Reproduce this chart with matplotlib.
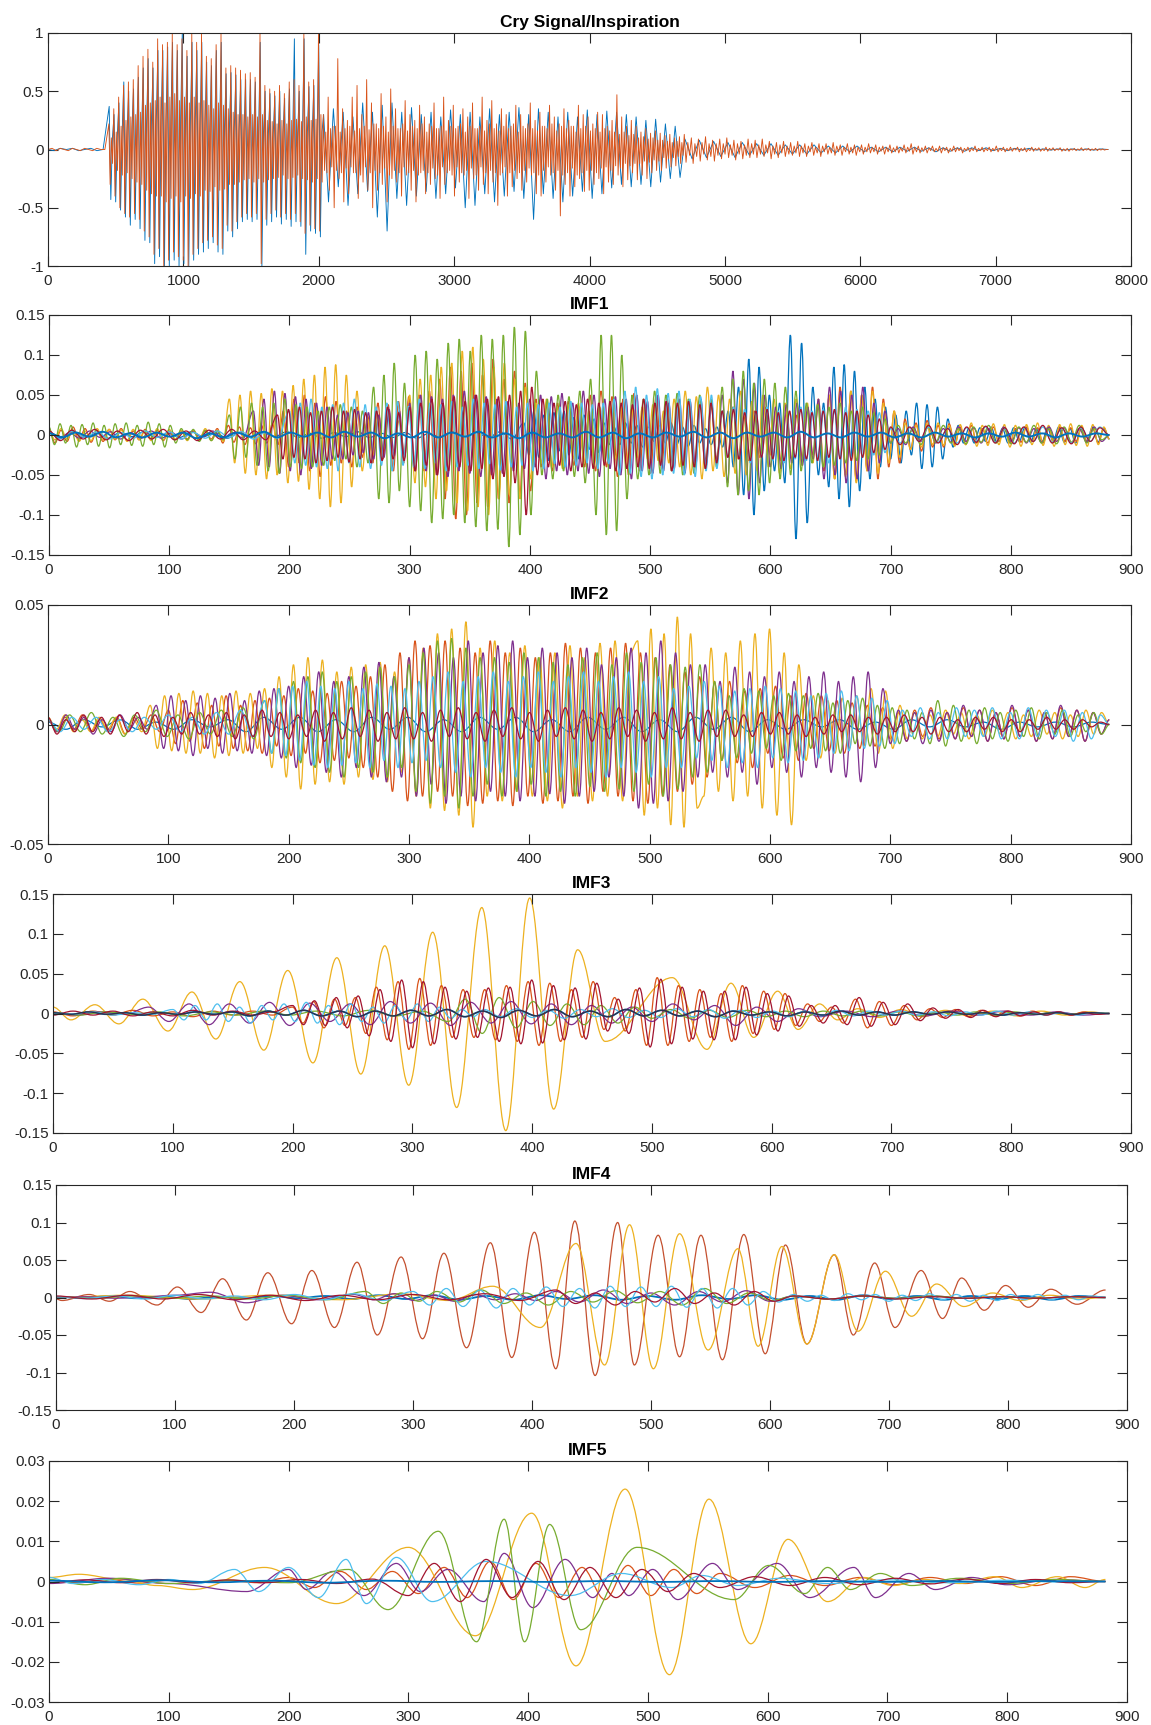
import numpy as np
import matplotlib.pyplot as plt
from matplotlib.path import Path
from matplotlib.patches import PathPatch
from matplotlib.ticker import FuncFormatter

plt.rcParams['font.family'] = ['Liberation Sans', 'DejaVu Sans']
plt.rcParams['axes.unicode_minus'] = False

# MATLAB default line colours
BLUE, ORANGE, YELLOW = '#0072BD', '#D95319', '#EDB120'
PURPLE, GREEN, CYAN, DARKRED = '#7E2F8E', '#77AC30', '#4DBEEE', '#A2142F'

# ---------------------------------------------------------------
# Data: extrema. Segments are (x_start, x_end, values),
# the values sit evenly spaced inside the segment.
# ---------------------------------------------------------------

# Cry Signal/Inspiration (values x 0.01)
cry_orange = [
    (0, 450, [0, 1, -1, 1, 0, -1, 1, 0, -1, 1, 0, -1, 1, 0, 0]),
    (450, 2034, [22, -30, 10, -12, 35, -40, 15, -18, 45, -50, 20, -22, 55, -55, 25, -20,
                 58, -58, 28, -25, 60, -55, 30, -28, 72, -60, 32, -30, 80, -70, 38, -35,
                 86, -75, 40, -38, 75, -90, 42, -40, 95, -85, 45, -40, 90, -100, 40, -45,
                 92, -95, 45, -42, 100, -88, 48, -40, 90, -92, 42, -45, 95, -95, 45, -40,
                 85, -100, 40, -42, 100, -90, 45, -38, 92, -85, 40, -40, 100, -80, 42, -35,
                 80, -78, 38, -36, 78, -75, 35, -32, 90, -82, 40, -35, 100, -85, 38, -34,
                 70, -65, 35, -30, 72, -70, 32, -30, 70, -62, 30, -28, 68, -58, 30, -26,
                 65, -55, 28, -25, 66, -58, 30, -28, 62, -55, 28, -25, 100, -98, 30, -28,
                 55, -60, 25, -26, 52, -55, 24, -25, 50, -52, 22, -24, 55, -58, 25, -22,
                 48, -55, 22, -25, 58, -60, 25, -24, 60, -55, 26, -22, 55, -62, 24, -25,
                 100, -72, 28, -26, 58, -65, 25, -28, 60, -68, 26, -25, 100, -70, 30, -28]),
    (2034, 4700, [30, -18, 15, -20, 45, -35, 18, -15, 20, -50, 20, -18, 78, -25, 15, -20, 35, -45, 18, -16,
                  25, -38, 20, -15, 45, -20, 16, -20, 55, -42, 18, -22, 30, -28, 20, -15, 60, -35, 17, -20,
                  40, -50, 22, -18, 22, -35, 18, -20, 48, -30, 20, -16, 28, -45, 15, -22, 52, -25, 20, -18,
                  35, -28, 18, -20, 18, -40, 22, -15, 42, -22, 16, -20, 30, -35, 20, -18, 25, -45, 18, -22,
                  38, -20, 22, -18, 28, -38, 15, -20, 22, -30, 20, -16, 40, -25, 18, -22, 18, -42, 20, -15,
                  45, -30, 16, -20, 25, -18, 20, -22, 38, -40, 18, -15, 20, -28, 22, -20, 35, -22, 15, -18,
                  28, -42, 20, -16, 40, -25, 18, -22, 18, -35, 20, -15, 45, -30, 16, -20, 25, -38, 22, -18,
                  42, -28, 18, -20, 22, -48, 16, -22, 35, -20, 20, -15, 30, -40, 18, -20, 20, -32, 22, -18,
                  38, -25, 15, -20, 30, -35, 20, -18, 18, -28, 22, -16, 40, -22, 18, -20, 25, -38, 16, -22,
                  32, -40, 20, -18, 20, -28, 18, -15, 38, -22, 22, -20, 28, -35, 16, -18, 22, -57, 20, -22,
                  35, -30, 18, -20, 25, -40, 20, -16, 20, -32, 15, -22, 38, -25, 18, -20, 30, -36, 20, -18,
                  28, -35, 16, -18, 22, -30, 18, -20, 32, -25, 15, -16, 30, -38, 18, -15, 20, -28, 16, -18,
                  25, -30, 15, -14, 47, -22, 13, -16, 28, -32, 15, -12, 20, -26, 12, -14, 25, -20, 13, -12,
                  20, -26, 10, -12, 15, -22, 11, -10, 18, -25, 9, -11, 14, -20, 10, -9, 16, -18, 8, -10,
                  14, -18, 8, -7, 12, -16, 7, -8, 13, -15, 6, -7, 10, -14, 7, -6, 11, -12, 6, -5]),
    (4700, 7830, [13, -11, 6, -5, 10, -12, 5, -6, 9, -10, 6, -4, 11, -9, 5, -6, 8, -10, 5, -5,
                  9, -8, 5, -4, 10, -7, 4, -5, 8, -9, 5, -4, 7, -8, 4, -5, 9, -7, 5, -4,
                  8, -7, 4, -4, 9, -6, 4, -3, 7, -8, 3, -4, 6, -7, 4, -3, 7, -6, 3, -4,
                  6, -5, 3, -3, 7, -6, 3, -3, 5, -6, 3, -2, 6, -5, 2, -3, 5, -6, 3, -2,
                  5, -4, 2, -3, 6, -5, 3, -2, 4, -5, 2, -2, 5, -4, 2, -3, 4, -5, 2, -2,
                  4, -4, 2, -2, 5, -3, 2, -2, 4, -4, 2, -1.5, 3, -4, 2, -2, 4, -3, 1.5, -2,
                  3, -3, 1.5, -1.5, 4, -3, 2, -1.5, 5, -4, 2, -2, 3, -3, 1.5, -1.5, 3, -3, 1.5, -1,
                  3, -2, 1, -1.5, 3, -3, 1.5, -1, 2, -3, 1, -1.5, 3, -2, 1.5, -1, 2, -3, 1, -1,
                  2, -2, 1, -1, 3, -2, 1, -1, 2, -2, 1, -1, 2, -2, 1, -1, 3, -2, 1, -1,
                  2, -2, 1, -1, 2, -1.5, 1, -0.5, 2, -2, 1, -1, 1.5, -2, 0.5, -1, 2, -1.5, 1, -0.5,
                  1.5, -1.5, 0.5, -1, 2, -1.5, 1, -0.5, 1.5, -1, 0.5, -0.5, 1.5, -1.5, 0.5, -1, 1, -1.5, 0.5, -0.5,
                  1, -1, 0.5, -0.5, 1.5, -1, 0.5, -0.5, 1, -1, 0.5, -0.5, 1, -1, 0.5, -0.5, 0.5, -0.5, 0, 0]),
]
cry_blue = [
    (0, 452, [0, -1, 1, 0, 1, -1, 0, 1, -1, 0]),
    (452, 2036, [37, -43, 10, 30, -45, 12, 40, -52, 15, 58, -58, 15, 50, -65, 18, 52, -60, 20,
                 62, -68, 20, 70, -78, 22, 78, -80, 25, 70, -98, 25, 85, -92, 28, 85, -100, 25,
                 88, -100, 28, 92, -95, 25, 85, -100, 28, 100, -98, 25, 80, -100, 25, 92, -95, 25,
                 85, -90, 22, 92, -88, 22, 75, -85, 20, 72, -80, 20, 85, -88, 22, 92, -90, 20,
                 65, -70, 18, 66, -75, 18, 64, -68, 16, 60, -62, 16, 60, -60, 15, 60, -62, 16,
                 58, -60, 15, 92, -100, 15, 50, -65, 14, 48, -62, 14, 46, -58, 12, 50, -64, 14,
                 44, -60, 12, 52, -66, 14, 95, -62, 14, 50, -66, 14, 95, -90, 15, 54, -70, 15,
                 55, -72, 15, 90, -75, 15]),
    (2036, 4705, [30, -45, 35, -32, 32, -48, 28, -38, 40, -36,
                  32, -58, 38, -70, 40, -42, 32, -48, 36, -40,
                  30, -36, 32, -42, 28, -38, 34, -33, 30, -50,
                  32, -48, 28, -38, 35, -45, 30, -40, 32, -36,
                  36, -42, 30, -60, 35, -38, 32, -42, 28, -45,
                  32, -40, 28, -36, 34, -42, 30, -38, 33, -33,
                  32, -30, 30, -32, 28, -30, 25, -32, 26, -28,
                  22, -25, 20, -24]),
    (4705, 7830, [9, -8, 8, -7, 7, -6, 6, -7, 6, -5,
                  5, -5, 5, -5, 4, -4, 4, -4, 4, -3,
                  3, -3, 3, -2, 3, -2, 2, -2, 2, -2,
                  2, -1.5, 2, -1.5, 1.5, -2, 1.5, -1.5, 1.5, -1.5,
                  1.5, -1, 1.5, -1, 1, -1, 1, -0.5, 1, -0.5,
                  0.5, -0.5, 0.5, -0.5, 0.5, -0.5, 0.5, -0.5, 0.5, 0]),
]

# IMF1 (values x 0.001)
imf1_blue = [
    (0, 395, [3, -2, 4, -3, 2, -4, 3, -2, 4, -3, 2, -3, 4, -2, 3, -4, 2, -3, 3, -2,
              4, -3, 2, -4, 3, -2, 4, -3, 2, -3, 3, -4, 2, -3, 4, -2, 3, -3, 4, -5]),
    (395, 470, [15, -25, 30, -28, 25, -32, 28, -20, 30, -25, 22, -30, 25, -18, 20, -22, 15, -12]),
    (470, 565, [10, -12, 15, -10, 12, -15, 10, -8, 12, -10, 15, -12, 10, -14, 12, -10, 8, -12, 10, -15]),
    (565, 612, [30, -40, 60, -75, 95, -100, 85, -70, 50, -45, 40]),
    (612, 640, [-60, 125, -130, 115, -110, 60]),
    (640, 700, [-50, 40, -65, 85, -80, 88, -90, 80, -70, 60, -55, 45, -40, 35]),
    (700, 765, [-30, 25, -35, 30, -25, 40, -42, 38, -40, 35, -30, 20, -15, 12, -10]),
    (765, 882, [8, -10, 9, -8, 10, -9, 8, -10, 9, -8, 10, -9, 8, -10, 9, -8, 10, -9, 8, -10,
                9, -8, 10, -9, 8, -5]),
]
imf1_orange = [
    (0, 140, [8, -10, 6, -8, 10, -7, 8, -9, 6, -8, 7, -6, 8, -7, 5, -6, 7, -5, 6, -7,
              5, -6, 4, -5, 6, -4, 5, -5]),
    (140, 195, [8, -10, 12, -9, 10, -12, 9, -11, 12, -10, 14, -12]),
    (195, 265, [30, -40, 45, -35, 50, -45, 40, -52, 48, -38, 42, -35, 30, -40, 35, -28]),
    (265, 325, [25, -35, 40, -30, 38, -45, 42, -35, 48, -40, 50, -45, 55, -50]),
    (325, 405, [70, -80, 85, -105, 80, -100, 90, -85, 75, -90, 95, -80, 70, -85, 80, -75, 65, -70]),
    (405, 450, [45, -40, 38, -45, 40, -35, 42, -38, 35, -40]),
    (450, 560, [50, -45, 55, -40, 48, -52, 45, -50, 52, -45, 40, -48, 50, -42, 45, -38,
                40, -45, 35, -40, 38, -32, 35, -30]),
    (560, 640, [30, -28, 35, -30, 25, -32, 30, -28, 35, -25, 30, -32, 28, -30, 25, -28, 30, -25]),
    (640, 712, [40, -45, 50, -55, 60, -50, 55, -58, 50, -45, 60, -55, 45, -40, 30, -35]),
    (712, 882, [20, -18, 15, -20, 18, -15, 12, -15, 14, -12, 10, -12, 12, -10, 8, -10, 10, -8,
                9, -10, 8, -9, 10, -8, 9, -10, 8, -9, 10, -8, 9, -8, 10, -9, 8, -10, 9, -5]),
]
imf1_yellow = [
    (0, 150, [5, -6, 8, -5, 6, -8, 5, -7, 8, -6, 7, -5, 6, -8, 7, -6, 5, -7, 8, -6,
              7, -5, 6, -7, 5, -6, 8, -7, 6, -8]),
    (150, 265, [45, -35, 50, -48, 55, -50, 52, -55, 58, -50, 55, -60, 62, -58, 70, -68,
                75, -80, 85, -90, 88, -85, 75, -65, 55, -45]),
    (265, 300, [20, -25, 22, -18, 25, -20, 18, -22]),
    (300, 405, [50, -60, 70, -65, 75, -80, 85, -70, 90, -85, 105, -95, 110, -90, 95, -100,
                85, -80, 90, -75, 70, -80, 60, -55]),
    (405, 520, [40, -35, 45, -40, 35, -42, 38, -30, 40, -35, 30, -38, 35, -32, 38, -30,
                35, -40, 32, -28, 35, -30, 38, -32, 30, -35]),
    (520, 640, [45, -40, 55, -50, 48, -55, 60, -45, 50, -52, 45, -48, 55, -50, 42, -45,
                50, -40, 45, -48, 40, -42, 45, -38, 40, -35]),
    (640, 712, [45, -40, 50, -55, 48, -52, 55, -60, 50, -45, 55, -48, 40, -35, 30, -28]),
    (712, 882, [15, -18, 12, -15, 14, -12, 15, -13, 12, -14, 13, -12, 15, -14, 12, -13,
                14, -12, 13, -15, 12, -14, 13, -12, 15, -13, 12, -14, 13, -12, 14, -13,
                12, -14, 13, -12, 10, -5]),
]
imf1_purple = [
    (0, 170, [4, -5, 3, -4, 5, -3, 4, -5, 3, -4, 5, -4, 3, -5, 4, -3, 5, -4, 3, -4]),
    (170, 240, [30, -38, 45, -40, 55, -48, 52, -45, 48, -50, 45, -42, 40, -38, 35, -30]),
    (240, 300, [25, -30, 28, -25, 30, -22, 28, -30, 25, -28, 32, -26, 30, -28]),
    (300, 400, [40, -45, 50, -45, 48, -50, 45, -52, 50, -45, 55, -48, 50, -52, 48, -50,
                45, -48, 42, -45, 40, -42]),
    (400, 560, [45, -40, 50, -55, 48, -45, 52, -50, 40, -45, 55, -48, 50, -52, 45, -42,
                48, -50, 45, -55, 50, -45, 42, -48, 50, -45, 40, -42, 45, -48, 42, -40,
                45, -38, 40, -35]),
    (560, 600, [50, -60, 80, -75, 70, -80, 65, -60, 50]),
    (600, 640, [-40, 35, -42, 38, -35, 40, -38, 35, -30]),
    (640, 700, [45, -55, 60, -50, 55, -60, 50, -55, 60, -45, 40, -35, 30]),
    (700, 882, [-10, 8, -12, 10, -8, 12, -10, 8, -9, 10, -8, 9, -10, 8, -9, 10, -8, 9,
                -10, 8, -9, 10, -8, 9, -10, 8, -9, 10, -8, 0]),
]
imf1_green = [
    (0, 110, [10, -12, 14, -10, 12, -15, 13, -12, 15, -14, 12, -16, 14, -12, 15, -13,
              12, -14, 16, -12, 14, -15, 12, -10]),
    (110, 150, [8, -6, 7, -8, 6, -7, 5, -6]),
    (150, 270, [25, -30, 35, -28, 40, -38, 35, -45, 40, -48, 45, -40, 38, -42, 35, -40,
                30, -38, 35, -32, 38, -30, 35, -40, 30, -35]),
    (270, 300, [60, -80, 75, -85, 90, -70, 65]),
    (300, 410, [-90, 100, -95, 105, -110, 95, -105, 115, -100, 120, -110, 105, -115, 125,
                -120, 120, -118, 125, -140, 135, -125, 130, -100, 80]),
    (410, 455, [-50, 45, -55, 50, -45, 48, -52, 55, -60, 70]),
    (455, 485, [-100, 125, -125, 125, -120, 100, -80]),
    (485, 560, [50, -55, 45, -50, 55, -48, 50, -45, 52, -50, 45, -48, 50, -42, 45, -40]),
    (560, 630, [60, -65, 70, -75, 80, -70, 65, -75, 70, -60, 65, -55, 60, -50, 55, -45]),
    (630, 700, [40, -35, 38, -40, 35, -38, 40, -35, 30, -32, 35, -30, 28, -25, 20]),
    (700, 882, [-10, 12, -10, 8, -12, 10, -9, 12, -10, 8, -11, 10, -9, 12, -10, 8, -11, 10,
                -9, 12, -10, 8, -11, 10, -9, 12, -10, 8, -6, 0]),
]
imf1_cyan = [
    (0, 200, [3, -4, 5, -3, 4, -5, 3, -4, 5, -3, 4, -5, 3, -4, 5, -3, 4, -5, 3, -4]),
    (200, 470, [30, -35, 40, -38, 45, -40, 35, -42, 38, -45, 40, -35, 45, -40, 38, -42,
                35, -38, 40, -45, 42, -38, 36, -40, 45, -42, 40, -35, 38, -45, 42, -40,
                35, -38, 45, -42, 40, -36, 38, -44, 42, -40, 35, -38, 40, -45, 38, -42,
                40, -36, 35, -40, 42, -38, 40, -35, 38, -42, 40, -36]),
    (470, 560, [45, -50, 55, -48, 60, -52, 50, -55, 58, -50, 52, -48, 55, -50, 45, -52, 48, -45, 50, -42]),
    (560, 700, [30, -28, 35, -30, 32, -35, 30, -28, 35, -32, 30, -35, 28, -30, 35, -32,
                30, -28, 32, -35, 30, -28, 35, -30, 32, -28, 30, -25, 28, -22]),
    (700, 882, [8, -10, 9, -8, 10, -9, 8, -10, 9, -8, 10, -9, 8, -10, 9, -8, 10, -9, 8, -10,
                9, -8, 10, 0]),
]
imf1_darkred = [
    (0, 190, [5, -7, 6, -5, 7, -6, 5, -7, 6, -5, 7, -6, 5, -7, 6, -5, 7, -6, 5, -6]),
    (190, 300, [25, -30, 32, -28, 35, -30, 28, -35, 30, -32, 35, -28, 30, -34, 32, -30,
                28, -35, 30, -32, 35, -30, 28, -32]),
    (300, 420, [35, -45, 40, -38, 45, -50, 40, -45, 48, -40, 42, -45, 50, -42, 45, -55,
                48, -52, 50, -60, 55, -100, 60, -50, 45, -40]),
    (420, 560, [40, -38, 42, -45, 38, -40, 45, -42, 40, -38, 42, -45, 40, -42, 38, -40,
                45, -42, 40, -38, 42, -45, 40, -38, 42, -40, 38, -42, 40, -35]),
    (560, 700, [30, -28, 32, -30, 28, -32, 30, -28, 32, -30, 28, -32, 30, -28, 32, -30,
                28, -32, 30, -28, 32, -30, 28, -32, 30, -28, 25, -22, 20, -18]),
    (700, 882, [10, -12, 10, -8, 12, -10, 8, -12, 10, -9, 11, -10, 9, -11, 10, -8, 12, -10,
                9, -11, 10, -8, 9, 0]),
]
imf1_zero = [
    (0, 882, [2, -3, 3, -2, 4, -3, 2, -3, 3, -2, 3, -4, 2, -3, 3, -2, 4, -3, 3, -2,
              3, -3, 4, -2, 3, -4, 2, -3, 4, -3, 3, -2, 4, -3, 2, -4, 3, -3, 2, -3,
              4, -3, 3, -4, 2, -3, 3, -2, 4, -3, 3, -4, 3, -2, 3, -3, 4, -3, 2, -3,
              3, -2, 3, -3, 2, -3, 3, -2, 2, -3, 2, -2, 3, -2, 2, -3, 2, -2, 2, 0]),
]

# IMF2 (values x 0.001)
imf2_blue = [
    (0, 882, [1, -2, 2, -1, 2, -2, 1, -2, 2, -1, 2, -3, 3, -2, 3, -3, 2, -3, 3, -2,
              3, -3, 2, -3, 3, -2, 3, -3, 2, -3, 3, -2, 3, -3, 2, -3, 3, -2, 3, -3,
              2, -2, 2, -1, 2, -2, 1, -2, 2, -1, 2, -1, 1, -2, 1, -1, 1, -1, 1, 0]),
]
imf2_orange = [
    (0, 100, [2, -3, 3, -2, 4, -3, 2, -3, 3, -4, 3, -2, 4, -3]),
    (100, 280, [6, -8, 10, -7, 9, -10, 8, -9, 12, -10, 8, -11, 10, -12, 11, -9, 12, -13,
                15, -12, 14, -16, 13, -15, 18, -14, 16, -18, 20, -22]),
    (280, 480, [25, -28, 30, -32, 35, -30, 33, -28, 35, -30, 32, -34, 30, -33, 35, -32,
                30, -34, 32, -30, 28, -33, 30, -32, 34, -30, 32, -33, 30, -28, 32, -30]),
    (480, 560, [34, -32, 30, -33, 28, -30, 25, -28, 22, -25, 20, -22, 18]),
    (560, 700, [-15, 18, -16, 14, -18, 15, -12, 16, -14, 12, -15, 13, -10, 12, -11, 10,
                -12, 9, -10, 8, -9, 7]),
    (700, 882, [-6, 5, -7, 6, -5, 7, -6, 5, -6, 7, -5, 6, -7, 5, -6, 7, -5, 6, -7, 5,
                -6, 7, -5, 6, -7, 5, -4, 2]),
]
imf2_yellow = [
    (0, 85, [3, -2, 4, -3, 2, -3, 3, -2, 3, -4, 2, -3]),
    (85, 180, [8, -10, 12, -11, 13, -12, 14, -12, 13, -14, 12, -13, 14, -12, 13, -10]),
    (180, 300, [15, -18, 20, -22, 25, -27, 28, -25, 27, -24, 22, -25, 24, -22, 25, -23,
                26, -24, 22, -20]),
    (300, 365, [28, -30, 32, -35, 38, -36, 40, -38, 43, -43, 32]),
    (365, 490, [-30, 35, -32, 30, -28, 33, -30, 28, -32, 30, -35, 33, -30, 28, -32, 34,
                -30, 35, -32, 30]),
    (490, 545, [35, -38, 40, -35, 38, -42, 45, -43, 38, -35]),
    (545, 630, [-30, 32, -28, 30, -32, 35, -30, 38, -35, 40, -38, 30, -42, 25]),
    (630, 720, [-15, 12, -14, 10, -12, 11, -10, 12, -9, 15, -12, 14, -10, 8, -6]),
    (720, 882, [5, -6, 4, -5, 6, -4, 5, -6, 4, -5, 6, -4, 5, -6, 4, -5, 6, -4, 5, -6,
                4, -5, 6, -4, 5, 0]),
]
imf2_purple = [
    (0, 90, [2, -3, 4, -2, 3, -4, 2, -3, 4, -2, 3, -2]),
    (90, 200, [8, -10, 12, -11, 10, -13, 12, -10, 11, -12, 13, -11, 10, -12, 14, -13, 15, -14]),
    (200, 300, [16, -18, 20, -17, 22, -20, 18, -22, 20, -18, 24, -22, 26, -24, 20, -22]),
    (300, 460, [28, -30, 32, -25, 30, -33, 28, -30, 35, -32, 30, -28, 33, -30, 35, -32,
                28, -30, 32, -29, 30, -33, 28, -30, 32, -28]),
    (460, 540, [25, -22, 28, -30, 32, -35, 30, -33, 35, -32, 30, -28, 25]),
    (540, 700, [-22, 25, -20, 18, -22, 24, -20, 22, -25, 20, -18, 22, -20, 18, -22, 20,
                -18, 22, -20, 18, -22, 20, -24, 22, -18, 15]),
    (700, 882, [-8, 6, -7, 5, -8, 6, -7, 5, -6, 8, -5, 6, -7, 5, -6, 8, -5, 6, -7, 5,
                -6, 8, -5, 6, -7, 5, -4, 2]),
]
imf2_green = [
    (0, 180, [2, -3, 4, -3, 5, -4, 3, -5, 4, -3, 6, -5, 4, -6, 5, -4, 6, -5, 7, -6]),
    (180, 300, [10, -12, 15, -14, 18, -16, 20, -18, 22, -20, 18, -22, 20, -18, 22, -20,
                24, -22, 20, -18]),
    (300, 365, [25, -28, 30, -33, 35, -30, 36, -35, 32, -30, 28]),
    (365, 560, [-25, 28, -30, 26, -28, 30, -25, 28, -30, 26, -28, 25, -30, 28, -26, 30,
                -28, 25, -27, 30, -28, 26, -25, 28, -30, 25, -27, 24, -22, 25, -20, 18]),
    (560, 720, [-15, 12, -14, 15, -12, 14, -10, 12, -15, 13, -11, 12, -10, 13, -11, 9,
                -12, 10, -8, 11, -9, 8, -10, 7, -8, 6]),
    (720, 882, [-6, 5, -8, 10, -9, 8, -7, 6, -8, 7, -6, 5, -7, 6, -5, 7, -6, 5, -4, 6,
                -5, 4, -3, 5, -4, 0]),
]
imf2_cyan = [
    (0, 180, [2, -3, 3, -2, 3, -3, 2, -3, 3, -2, 4, -3, 3, -4, 5, -4, 6, -5]),
    (180, 320, [10, -12, 15, -13, 16, -15, 18, -17, 16, -18, 15, -17, 18, -16, 15, -18,
                17, -15, 16, -18, 15, -16, 18, -15]),
    (320, 520, [20, -18, 22, -20, 18, -22, 20, -18, 22, -20, 18, -22, 20, -18, 22, -20,
                18, -22, 20, -18, 22, -20, 18, -22, 20, -18, 22, -20, 18, -22, 20, -18]),
    (520, 710, [15, -18, 16, -14, 18, -15, 16, -18, 14, -16, 15, -18, 16, -14, 15, -16,
                14, -15, 12, -14, 13, -12, 14, -11, 12, -10, 11, -9, 10, -8]),
    (710, 882, [6, -5, 7, -6, 5, -6, 7, -5, 6, -5, 7, -6, 5, -6, 7, -5, 6, -5, 6, -7,
                5, -6, 4, 0]),
]
imf2_darkred = [
    (0, 882, [3, -4, 2, -3, 4, -3, 3, -4, 4, -3, 5, -4, 4, -5, 3, -4, 5, -4, 4, -5,
              5, -6, 4, -5, 6, -5, 5, -6, 4, -5, 6, -7, 5, -6, 7, -5, 6, -7, 5, -6,
              7, -6, 5, -7, 6, -5, 7, -6, 5, -7, 6, -5, 7, -6, 5, -7, 6, -5, 7, -6,
              6, -7, 5, -6, 7, -5, 6, -7, 5, -6, 7, -6, 5, -7, 6, -5, 6, -5, 4, -5,
              5, -4, 5, -4, 4, -5, 3, -4, 4, -3, 4, -3, 3, -4, 3, -3, 4, -3, 3, -4,
              3, -3, 2, -3, 3, -2, 3, -3, 2, -3, 2, -2, 3, -2, 2, -2, 2, -1, 1, 0]),
]

# IMF3 (values x 0.001)
imf3_yellow_x = [0, 15, 35, 55, 75, 96, 116, 136, 156, 176, 196, 217, 237, 257, 277, 297,
                 317, 337, 358, 378, 398, 418, 438, 461, 517, 546, 566, 585, 605, 622,
                 640, 655, 672, 690, 708, 726, 745, 765, 785, 805, 825, 845, 865, 882]
imf3_yellow_y = [8, -8, 11, -13, 18, -22, 27, -32, 40, -46, 54, -62, 70, -76, 85, -90,
                 102, -118, 133, -147, 145, -120, 80, -35, 45, -45, 38, -30, 28, -20,
                 12, -8, 6, -5, 5, -4, 4, -3, 3, -3, 3, -2, 2, 0]
imf3_orange = [
    (0, 200, [2, -3, 3, -2, 4, -3, 2, -4, 3, -2, 3, -2]),
    (200, 270, [8, -12, 15, -18, 18, -15, 20, -25]),
    (270, 460, [33, -33, 40, -45, 44, -40, 35, -30, 30, -30, 30, -33, 35, -35, 40, -40,
                38, -35, 30, -30, 40]),
    (460, 620, [-20, 20, -22, 30, -40, 45, -40, 35, -35, 30, -30, 25, -35, 35, -25, 28, -20, 25]),
    (620, 700, [-15, 12, -10, 8, -12, 18, -18, 15]),
    (700, 882, [-15, 10, -8, 6, -5, 5, -4, 4, -3, 3, -3, 3, -2, 2, -2, 2, -1, 0]),
]
imf3_darkred = [
    (0, 200, [-2, 3, -2, 3, -3, 2, -3, 4, -2, 3, -2, 2]),
    (200, 273, [10, -14, 16, -15, 20, -18, 22, -28]),
    (273, 463, [30, -35, 42, -43, 40, -38, 33, -32, 28, -30, 32, -35, 33, -38, 42, -37,
                35, -33, 32, -32, 38]),
    (463, 623, [-22, 18, -25, 32, -42, 43, -38, 33, -32, 28, -33, 28, -33, 33, -27, 25, -22, 22]),
    (623, 703, [-16, 10, -12, 10, -14, 20, -16, 14]),
    (703, 882, [-14, 12, -9, 7, -6, 5, -5, 4, -4, 3, -3, 2, -2, 2, -2, 1, -1, 0]),
]
imf3_purple = [
    (0, 80, [1, -2, 2, -1]),
    (80, 500, [8, -10, 12, -14, 12, -12, 14, -15, 13, -10, 12, -14, 15, -12, 13, -15,
               14, -12, 15, -13, 12, -14, 10, -12, 8]),
    (500, 640, [-10, 12, -8, 10, -15, 8, -10, 6]),
    (640, 882, [-4, 3, -4, 3, -3, 3, -2, 3, -2, 2, -2, 0]),
]
imf3_cyan = [
    (0, 100, [1, -1, 2, -2, 1, -1]),
    (100, 360, [5, -8, 10, -8, 12, -10, 8, -12, 10, -8, 12, -10, 14, -12, 10, -14,
                12, -10, 8, -12, 10, -8, 12, -10, 8, -6, 5, -4]),
    (360, 882, [5, -4, 6, -5, 4, -6, 5, -4, 6, -5, 4, -5, 6, -4, 5, -6, 4, -5, 3, -4,
                3, -3, 4, -3, 3, -2, 3, -2, 2, -3, 2, -2, 3, -2, 2, -2, 1, -2, 1, 0]),
]
imf3_green = [
    (0, 330, [1, -2, 2, -1, 2, -3, 2, -2, 3, -2, 3, -3, 4, -3, 3]),
    (330, 500, [-10, 18, -25, 20, -18, 15, -15, 12, -14, 10, -12, 8]),
    (500, 882, [-6, 5, -6, 4, -5, 4, -4, 3, -4, 3, -3, 3, -3, 2, -3, 2, -2, 2, -2, 2,
                -1, 1, -1, 1, 0]),
]
imf3_zero = [
    (0, 882, [1, -1, 2, -1, 1, -2, 1, -1, 2, -1, 2, -3, 3, -2, 4, -3, 3, -4, 3, -3,
              4, -3, 5, -4, 3, -5, 4, -3, 5, -4, 3, -4, 5, -3, 4, -3, 3, -4, 3, -2,
              2, -3, 2, -2, 3, -2, 2, -2, 2, -1, 2, -1, 1, -2, 1, -1, 1, -1, 1, 0]),
]

# IMF4 (values x 0.001)
imf4_orange_x = [0, 5, 28, 45, 62, 85, 102, 122, 140, 160, 178, 198, 215, 234, 253, 270,
                 290, 308, 326, 345, 365, 383, 402, 420, 436, 453, 472, 486, 506, 524,
                 542, 560, 578, 596, 613, 631, 654, 670, 688, 705, 727, 745, 761, 780,
                 798, 817, 836, 858, 882]
imf4_orange_y = [-2, -4, 4, -5, 8, -10, 14, -20, 25, -30, 33, -35, 36, -40, 47, -50,
                 54, -55, 59, -67, 73, -80, 87, -95, 102, -104, 100, -90, 83, -79,
                 83, -83, 84, -75, 70, -62, 57, -50, 46, -40, 36, -28, 26, -17,
                 16, -13, 11, -9, 10]
imf4_yellow_x = [0, 60, 120, 180, 240, 290, 330, 367, 407, 437, 461, 482, 502, 524, 548,
                 573, 590, 610, 631, 654, 674, 697, 719, 740, 763, 787, 810, 835, 860, 882]
imf4_yellow_y = [0, 3, -2, 3, -3, 5, -4, 15, -40, 72, -90, 97, -95, 85, -70,
                 65, -65, 68, -62, 57, -45, 35, -25, 18, -12, 6, -4, 3, -2, 0]
imf4_purple = [
    (0, 100, [0, 1, -1, 1]),
    (100, 250, [3, 7, -7, 3, -3]),
    (250, 420, [4, -3, 5, -4, 3, -5, 4, -3, 5, -4]),
    (420, 620, [8, -6, 10, -8, 6, -10, 8, -6, 9, -5]),
    (620, 882, [2, -2, 2, -1, 2, -1, 1, -1, 1, 0]),
]
imf4_cyan = [
    (0, 300, [1, -1, 2, -2, 3, -2, 2, -3, 4, -3, 5, -4]),
    (300, 440, [8, -10, 12, -12, 10, -14, 12, -10, 14, -12]),
    (440, 620, [12, -14, 15, -12, 14, -12, 15, -13, 12, -14, 12, -10, 8, -6]),
    (620, 882, [4, -5, 3, -4, 5, -3, 4, -5, 3, -4, 5, -3, 4, -5, 3, -4, 4, -3, 4, -3,
                3, -3, 2, 0]),
]
imf4_green = [
    (0, 260, [1, -1, 2, -1, 2, -2, 3, -3]),
    (260, 320, [8, -8, 6, -5]),
    (320, 620, [8, -6, 10, -8, 6, -10, 8, -6, 9, -7, 8, -10, 12, -8, 6, -4]),
    (620, 882, [2, -2, 2, -1, 2, -1, 1, -1, 1, 0]),
]
imf4_darkred = [
    (0, 420, [2, -2, 3, -2, 4, -3, 3, -4, 3, -3, 4, -3, 5, -4]),
    (420, 620, [10, -8, 6, -10, 8, -6, 12, -8, 6, -10, 8, -5]),
    (620, 882, [2, -2, 2, -2, 1, -1, 1, -1, 1, 0]),
]
imf4_blue = [
    (0, 882, [1, -1, 2, -1, 1, -2, 1, -1, 2, -1, 2, -2, 3, -2, 3, -3, 2, -3, 3, -2,
              3, -3, 2, -3, 3, -2, 3, -3, 2, -3, 3, -2, 2, -3, 2, -2, 2, -3, 2, 0]),
]

# IMF5 (values x 0.0001)
imf5_yellow_x = [0, 25, 60, 90, 120, 180, 240, 300, 356, 403, 440, 481, 518, 551, 586,
                 617, 650, 680, 705, 730, 760, 790, 812, 842, 865, 882]
imf5_yellow_y = [10, 18, 5, -10, -20, 35, -55, 85, -135, 170, -210, 230, -232, 205, -155,
                 105, -50, 10, -10, 5, -5, 12, -15, 12, -15, 5]
imf5_green_x = [0, 30, 60, 100, 150, 200, 250, 283, 325, 357, 380, 397, 418, 444, 491,
                572, 601, 631, 650, 669, 694, 720, 760, 800, 840, 882]
imf5_green_y = [5, -8, 8, -5, 3, -3, 30, -70, 125, -150, 155, -150, 142, -120, 85,
                -45, 40, -30, 35, -20, 20, -10, 8, -5, 5, 0]
imf5_purple_x = [0, 50, 100, 165, 200, 215, 237, 263, 290, 310, 333, 363, 380, 404, 431,
                 454, 470, 484, 504, 525, 554, 575, 608, 635, 672, 690, 718, 740, 770,
                 800, 840, 882]
imf5_purple_y = [-5, 8, -5, -25, 30, -20, 25, -35, 45, -25, 30, -50, 70, -65, 55,
                 -40, 20, -35, 30, -45, 45, -20, 45, -40, 35, -40, 20, -20, 10,
                 -8, 5, 0]
imf5_cyan_x = [0, 20, 45, 75, 100, 125, 155, 175, 200, 225, 248, 265, 290, 320, 365,
               435, 478, 520, 545, 575, 610, 650, 700, 750, 800, 850, 882]
imf5_cyan_y = [10, -5, 5, -8, 5, -5, 30, -25, 35, -40, 55, -55, 60, -50, 50,
               -35, 20, -15, 15, -10, 8, -5, 4, -3, 3, -2, 0]
imf5_orange = [
    (0, 200, [3, -3, 5, -4, 3, -2, 2, -3]),
    (200, 330, [10, -15, 25, -20, 25, -30]),
    (330, 560, [35, -40, 50, -45, 45, -40, 35, -45, 40, -35, 30, -30]),
    (560, 882, [20, -15, 15, -10, 10, -8, 10, -5, 12, -10, 12, 0]),
]
imf5_darkred = [
    (0, 300, [-3, 4, -3, 5, -3, 4, -3, 5, -5, 6]),
    (300, 560, [-35, 45, -50, 55, -40, 50, -45, 35, -40, 30, -25, 20]),
    (560, 882, [-15, 12, -10, 10, -8, 8, -6, 6, -5, 5, -3, 0]),
]
imf5_blue = [
    (0, 882, [2, -2, 3, -2, 2, -3, 2, -1, 1, -1, 1, -1, 1, -1, 1, -1, 1, -1, 1, 0]),
]


# ---------------------------------------------------------------
def build(segs, scale):
    xs, ys = [], []
    for k, (x0, x1, vals) in enumerate(segs):
        last = k == len(segs) - 1
        xs.extend(np.linspace(x0, x1, len(vals), endpoint=last))
        ys.extend(vals)
    return np.array(xs, float), np.array(ys, float) * scale


def smooth(ax, x, y, color, lw=0.9):
    # cubic segments with flat tangents at every extremum
    verts = [(x[0], y[0])]
    codes = [Path.MOVETO]
    for i in range(len(x) - 1):
        dx = x[i + 1] - x[i]
        verts += [(x[i] + 0.36 * dx, y[i]), (x[i + 1] - 0.36 * dx, y[i + 1]), (x[i + 1], y[i + 1])]
        codes += [Path.CURVE4] * 3
    ax.add_patch(PathPatch(Path(verts, codes), facecolor='none', edgecolor=color, lw=lw))


def style(ax, title, xmax, xstep, yticks):
    ax.set_xlim(0, xmax)
    ax.set_ylim(yticks[0], yticks[-1])
    ax.set_xticks(np.arange(0, xmax + 1, xstep))
    ax.set_yticks(yticks)
    ax.yaxis.set_major_formatter(FuncFormatter(lambda v, p: '%g' % round(v, 4)))
    ax.tick_params(direction='in', top=True, right=True, length=7, width=0.8,
                   colors='#262626', labelsize=11)
    ax.tick_params(axis='x', pad=6)
    ax.tick_params(axis='y', pad=3)
    for s in ax.spines.values():
        s.set_color('#262626')
        s.set_linewidth(0.8)
    ax.set_title(title, fontsize=12.5, fontweight='bold', pad=4)


W, H = 1151, 1725
fig = plt.figure(figsize=(W / 100, H / 100), dpi=100)


def add_axes(l, r, t, b):
    return fig.add_axes([l / W, 1 - b / H, (r - l) / W, (b - t) / H])


# Panel 1
ax = add_axes(48, 1131, 33, 266)
for segs, c in [(cry_blue, BLUE), (cry_orange, ORANGE)]:
    x, y = build(segs, 0.01)
    ax.plot(x, np.clip(y, -1, 1), color=c, lw=0.65)
style(ax, 'Cry Signal/Inspiration', 8000, 1000, [-1, -0.5, 0, 0.5, 1])

imf_yt = [-0.15, -0.1, -0.05, 0, 0.05, 0.1, 0.15]

# IMF1
ax = add_axes(49, 1131, 315, 555)
for segs, c in [(imf1_blue, BLUE), (imf1_orange, ORANGE), (imf1_yellow, YELLOW),
                (imf1_purple, PURPLE), (imf1_green, GREEN), (imf1_cyan, CYAN),
                (imf1_darkred, DARKRED)]:
    smooth(ax, *build(segs, 0.001), c)
smooth(ax, *build(imf1_zero, 0.001), BLUE, lw=1.4)
style(ax, 'IMF1', 900, 100, imf_yt)

# IMF2
ax = add_axes(48, 1131, 605, 844)
for segs, c in [(imf2_blue, BLUE), (imf2_orange, ORANGE), (imf2_yellow, YELLOW),
                (imf2_purple, PURPLE), (imf2_green, GREEN), (imf2_cyan, CYAN),
                (imf2_darkred, DARKRED)]:
    smooth(ax, *build(segs, 0.001), c)
style(ax, 'IMF2', 900, 100, [-0.05, 0, 0.05])

# IMF3
ax = add_axes(53, 1131, 894, 1133)
smooth(ax, *build(imf3_zero, 0.001), BLUE, lw=1.2)
smooth(ax, np.array(imf3_yellow_x, float), np.array(imf3_yellow_y) * 0.001, YELLOW)
for segs, c in [(imf3_orange, ORANGE), (imf3_purple, PURPLE), (imf3_green, GREEN),
                (imf3_cyan, CYAN), (imf3_darkred, DARKRED)]:
    smooth(ax, *build(segs, 0.001), c)
smooth(ax, *build(imf3_zero, 0.001), '#2a3350', lw=1.0)
style(ax, 'IMF3', 900, 100, imf_yt)

# IMF4
ax = add_axes(56, 1127, 1185, 1410)
smooth(ax, *build(imf4_blue, 0.001), BLUE, lw=1.3)
smooth(ax, np.array(imf4_orange_x, float), np.array(imf4_orange_y) * 0.001, '#C4502F')
smooth(ax, np.array(imf4_yellow_x, float), np.array(imf4_yellow_y) * 0.001, YELLOW)
for segs, c in [(imf4_purple, PURPLE), (imf4_green, GREEN), (imf4_cyan, CYAN),
                (imf4_darkred, DARKRED)]:
    smooth(ax, *build(segs, 0.001), c)
style(ax, 'IMF4', 900, 100, imf_yt)

# IMF5
ax = add_axes(49, 1127, 1461, 1702)
for segs, c in [(imf5_orange, ORANGE)]:
    smooth(ax, *build(segs, 0.0001), c)
smooth(ax, np.array(imf5_yellow_x, float), np.array(imf5_yellow_y) * 0.0001, YELLOW)
smooth(ax, np.array(imf5_purple_x, float), np.array(imf5_purple_y) * 0.0001, PURPLE)
smooth(ax, np.array(imf5_green_x, float), np.array(imf5_green_y) * 0.0001, GREEN)
smooth(ax, np.array(imf5_cyan_x, float), np.array(imf5_cyan_y) * 0.0001, CYAN)
smooth(ax, *build(imf5_darkred, 0.0001), DARKRED)
smooth(ax, *build(imf5_blue, 0.0001), BLUE, lw=1.3)
style(ax, 'IMF5', 900, 100, [-0.03, -0.02, -0.01, 0, 0.01, 0.02, 0.03])

fig.savefig('out.png', dpi=100)
